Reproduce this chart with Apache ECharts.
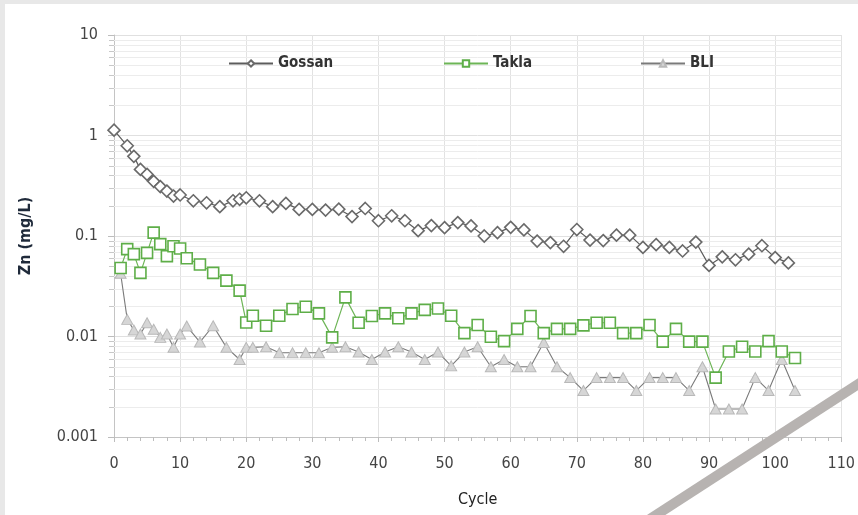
<!DOCTYPE html>
<html>
<head>
<meta charset="utf-8">
<script src="https://cdn.jsdelivr.net/npm/echarts@6/dist/echarts.min.js"></script>
<style>
  html, body { margin: 0; padding: 0; background: #e8e8e8; overflow: hidden; }
  #panel { position: absolute; left: 5px; top: 4px; width: 853px; height: 511px; background: #ffffff; }
  #chart { position: absolute; left: 0; top: 0; width: 858px; height: 515px; }
</style>
</head>
<body>
<div id="panel"></div>
<div id="chart"></div>
<script>
// Zinc concentration per leaching cycle, three materials
const gossanCycles = [0, 2, 3, 4, 5, 6, 7, 8, 9, 10, 12, 14, 16, 18, 19, 20, 22, 24, 26, 28, 30, 32, 34, 36, 38, 40,
  42, 44, 46, 48, 50, 52, 54, 56, 58, 60, 62, 64, 66, 68, 70, 72, 74, 76, 78, 80, 82, 84, 86, 88, 90, 92, 94, 96, 98, 100, 102];
const gossanZn = [1.13, 0.79, 0.62, 0.46, 0.41, 0.35, 0.31, 0.28, 0.25, 0.256, 0.224, 0.214, 0.196, 0.224, 0.232, 0.24,
  0.224, 0.196, 0.211, 0.184, 0.184, 0.181, 0.185, 0.156, 0.188, 0.142, 0.159, 0.142, 0.113, 0.127, 0.121, 0.136, 0.126,
  0.1, 0.108, 0.122, 0.115, 0.089, 0.086, 0.079, 0.116, 0.091, 0.09, 0.102, 0.102, 0.077, 0.082, 0.077, 0.071, 0.087,
  0.051, 0.062, 0.058, 0.066, 0.08, 0.061, 0.054];

const taklaCycles = [1, 2, 3, 4, 5, 6, 7, 8, 9, 10, 11, 13, 15, 17, 19, 20, 21, 23, 25, 27, 29, 31, 33, 35, 37, 39, 41,
  43, 45, 47, 49, 51, 53, 55, 57, 59, 61, 63, 65, 67, 69, 71, 73, 75, 77, 79, 81, 83, 85, 87, 89, 91, 93, 95, 97, 99, 101, 103];
const taklaZn = [0.048, 0.074, 0.066, 0.043, 0.068, 0.108, 0.083, 0.063, 0.079, 0.075, 0.06, 0.052, 0.043, 0.036, 0.0286,
  0.0138, 0.0161, 0.0128, 0.0161, 0.0188, 0.0198, 0.017, 0.0098, 0.0245, 0.0137, 0.016, 0.017, 0.0152, 0.017, 0.0184,
  0.019, 0.0161, 0.0108, 0.013, 0.00995, 0.009, 0.0119, 0.016, 0.0108, 0.0119, 0.0119, 0.0129, 0.0137, 0.0137, 0.0108,
  0.0108, 0.013, 0.0089, 0.0119, 0.0089, 0.0089, 0.0039, 0.0071, 0.0079, 0.0071, 0.009, 0.0071, 0.0061];

const bliCycles = [1, 2, 3, 4, 5, 6, 7, 8, 9, 10, 11, 13, 15, 17, 19, 20, 21, 23, 25, 27, 29, 31, 33, 35, 37, 39, 41,
  43, 45, 47, 49, 51, 53, 55, 57, 59, 61, 63, 65, 67, 69, 71, 73, 75, 77, 79, 81, 83, 85, 87, 89, 91, 93, 95, 97, 99, 101, 103];
const bliZn = [0.0425, 0.0148, 0.0116, 0.0106, 0.0137, 0.0118, 0.0098, 0.0106, 0.0078, 0.0106, 0.0127, 0.0088, 0.0128,
  0.0078, 0.0059, 0.0078, 0.0078, 0.0079, 0.0069, 0.0069, 0.0069, 0.0069, 0.0078, 0.0079, 0.007, 0.0059, 0.007, 0.0079,
  0.007, 0.0059, 0.007, 0.0051, 0.007, 0.0079, 0.005, 0.0059, 0.005, 0.005, 0.0087, 0.005, 0.0039, 0.0029, 0.0039,
  0.0039, 0.0039, 0.0029, 0.0039, 0.0039, 0.0039, 0.0029, 0.005, 0.0019, 0.0019, 0.0019, 0.0039, 0.0029, 0.0059, 0.0029];

const seriesNames = ['Gossan', 'Takla', 'BLI'];
const xTicks = { min: 0, max: 110, step: 10 };
const yTickLabels = ['0.001', '0.01', '0.1', '1', '10'];
const yDecades = [0.001, 0.01, 0.1, 1];

const FONT = "'Liberation Sans Narrow', 'DejaVu Sans Condensed', 'Arial Narrow', sans-serif";

function pairs(xs, ys) { return xs.map((x, i) => [x, ys[i]]); }

// intermediate log levels (2..9 within each decade) for the fine grid
const minorLevels = [];
yDecades.forEach(d => { for (let k = 2; k <= 9; k++) minorLevels.push([xTicks.min, +(k * d).toPrecision(3)]); });

const chart = echarts.init(document.getElementById('chart'), null, { renderer: 'canvas' });

const legendText = { fontFamily: FONT, fontSize: 15, fontWeight: 'bold', color: '#333' };
const legendBase = { top: 56, padding: 0, itemWidth: 44, itemHeight: 8, textStyle: legendText };

chart.setOption({
  backgroundColor: 'transparent',
  animation: false,
  grid: { left: 114, right: 10, top: 35, bottom: 78, containLabel: false },
  legend: [
    Object.assign({ data: [seriesNames[0]], left: 228 }, legendBase),
    Object.assign({ data: [seriesNames[1]], left: 443 }, legendBase),
    Object.assign({ data: [seriesNames[2]], left: 640 }, legendBase)
  ],
  xAxis: {
    type: 'value',
    min: xTicks.min, max: xTicks.max, interval: xTicks.step,
    name: 'Cycle', nameLocation: 'middle', nameGap: 55,
    nameTextStyle: { fontFamily: FONT, fontSize: 16, color: '#222' },
    axisLine: { show: true, lineStyle: { color: '#c4c4c4', width: 1 } },
    axisTick: { show: true, length: 5, lineStyle: { color: '#bdbdbd' } },
    minorTick: { show: true, splitNumber: 5, length: 4, lineStyle: { color: '#bdbdbd' } },
    splitLine: { show: true, lineStyle: { color: '#e2e2e2', width: 1 } },
    axisLabel: { fontFamily: FONT, fontSize: 16, color: '#444', margin: 19 }
  },
  yAxis: {
    type: 'log', logBase: 10, min: 0.001, max: 10,
    name: 'Zn (mg/L)', nameLocation: 'middle', nameGap: 80, nameRotate: 90,
    nameTextStyle: { fontFamily: FONT, fontSize: 16, fontWeight: 'bold', color: '#1f2a3a' },
    axisLine: { show: true, lineStyle: { color: '#c4c4c4', width: 1 } },
    axisTick: { show: true, length: 6, lineStyle: { color: '#bdbdbd' } },
    splitLine: { show: true, lineStyle: { color: '#e0e0e0', width: 1 } },
    axisLabel: {
      fontFamily: FONT, fontSize: 16, color: '#444', margin: 16,
      formatter: v => yTickLabels[Math.round(Math.log10(v)) + 3]
    }
  },
  series: [
    {
      // fine horizontal grid + short ticks at the intermediate log levels
      type: 'custom', name: 'grid-minor', silent: true, clip: false, z: 1,
      data: minorLevels,
      renderItem: (params, api) => {
        const v = api.value(1);
        const a = api.coord([xTicks.min, v]);
        const b = api.coord([xTicks.max, v]);
        const y = Math.round(a[1]) + 0.5;
        return {
          type: 'group',
          children: [
            { type: 'line', shape: { x1: a[0], y1: y, x2: b[0], y2: y }, style: { stroke: '#ececec', lineWidth: 1 } },
            { type: 'line', shape: { x1: a[0] - 5, y1: y, x2: a[0], y2: y }, style: { stroke: '#c8c8c8', lineWidth: 1 } }
          ]
        };
      }
    },
    {
      name: seriesNames[0], type: 'line', z: 4,
      data: pairs(gossanCycles, gossanZn),
      symbol: 'diamond', symbolSize: [12, 12],
      lineStyle: { color: '#5c5c5c', width: 1.2 },
      itemStyle: { color: '#ffffff', borderColor: '#6a6a6a', borderWidth: 1.6 }
    },
    {
      name: seriesNames[1], type: 'line', z: 3,
      data: pairs(taklaCycles, taklaZn),
      symbol: 'rect', symbolSize: [11, 11],
      lineStyle: { color: '#6db556', width: 1.2 },
      itemStyle: { color: '#ffffff', borderColor: '#5eae48', borderWidth: 1.6 }
    },
    {
      name: seriesNames[2], type: 'line', z: 2,
      data: pairs(bliCycles, bliZn),
      symbol: 'triangle', symbolSize: [11, 10],
      lineStyle: { color: '#7a7a7a', width: 1.1 },
      itemStyle: { color: '#d6d6d6', borderColor: '#b9b9b9', borderWidth: 1 }
    }
  ],
  graphic: [
    {
      // diagonal accent stroke across the lower right corner
      type: 'line', z: 100, silent: true,
      shape: { x1: 650, y1: 519, x2: 866, y2: 379 },
      style: { stroke: '#b7b3b1', lineWidth: 10 }
    }
  ]
});
</script>
</body>
</html>
